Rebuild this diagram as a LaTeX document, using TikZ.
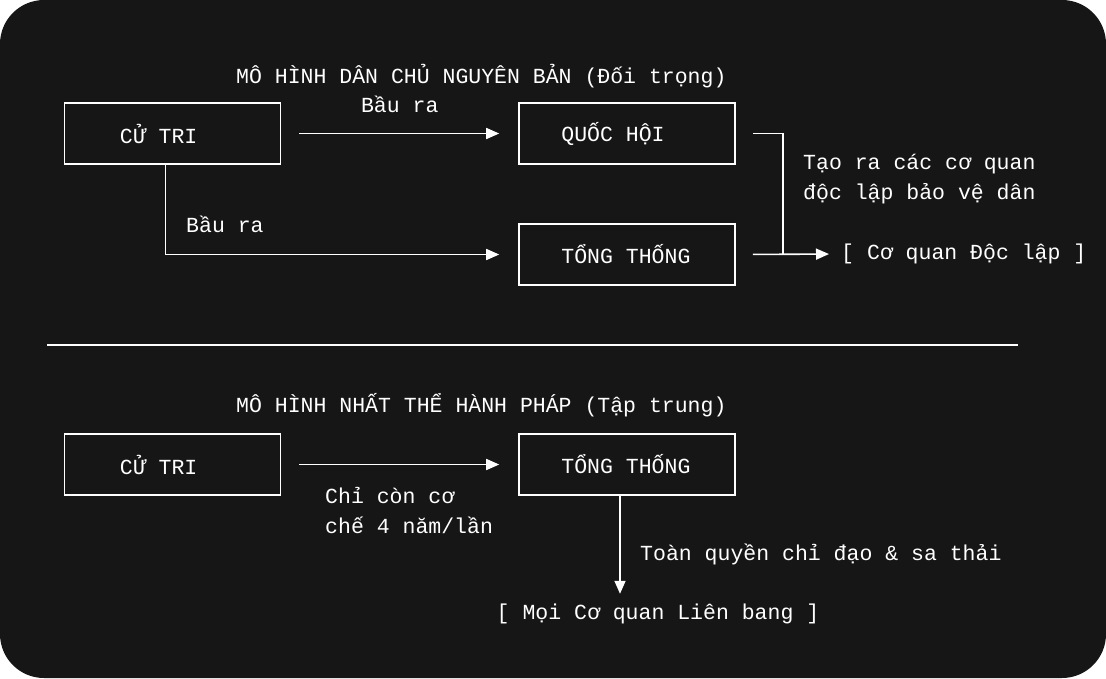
\documentclass[tikz,border=0pt]{standalone}
\usepackage{fontspec}
\usetikzlibrary{arrows.meta}
\newfontfamily\monofont{Liberation Mono}
\definecolor{nen}{HTML}{161616}
\tikzset{
  chu/.style={inner sep=0pt, text=white, align=left},
  khung/.style={draw=white, line width=1.6pt, minimum width=216pt, minimum height=61pt},
  nhan/.style={chu, anchor=west, xshift=#1},
  nhan/.default=43pt,
  duong/.style={draw=white, line width=1.6pt},
  mui/.style={duong, -{Triangle[length=13pt,width=11pt]}}
}
\begin{document}
\begin{tikzpicture}[x=1pt, y=-1pt, font=\monofont\fontsize{21.5}{30}\selectfont]
    \useasboundingbox (0,0) rectangle (1106,678);
    % background
    \fill[white] (0,0) rectangle (1106,678);
    \fill[nen, rounded corners=44pt] (0,0) rectangle (1106,678);
    % model 1
    \node[chu, anchor=west] (tieude1) at (236,76) {MÔ HÌNH DÂN CHỦ NGUYÊN BẢN (Đối trọng)};
    \node[khung, label={[nhan=56pt]west:CỬ TRI}] (cutri1) at (172.5,133.5) {};
    \node[khung, label={[nhan]west:QUỐC HỘI}] (quochoi) at (627,133.5) {};
    \node[khung, label={[nhan]west:TỔNG THỐNG}] (tongthong1) at (627,254.5) {};
    \node[chu, anchor=west] (cqdl) at (841,254) {[ Cơ quan Độc lập ]};
    \coordinate (nhanh) at (783,254);
    \draw[mui, shorten <=18pt, shorten >=19pt] (cutri1) -- (quochoi)
        node[chu, midway, above=20pt] (bauqh) {Bầu ra};
    \draw[mui, shorten >=19pt] ([xshift=-7pt]cutri1.south) |- (tongthong1.west);
    \node[chu, anchor=west] (bautt) at (186,224) {Bầu ra};
    % independent agencies
    \draw[duong, shorten <=17pt] (quochoi.east) -| (nhanh);
    \draw[mui, shorten <=17pt, shorten >=12pt] (tongthong1.east) -- (cqdl.west);
    \node[chu, anchor=west] (taora) at (803,179) {Tạo ra các cơ quan\\độc lập bảo vệ dân};
    % separator
    \draw[duong] (47,345) -- (1018,345);
    % model 2
    \node[chu, anchor=west] (tieude2) at (236,405) {MÔ HÌNH NHẤT THỂ HÀNH PHÁP (Tập trung)};
    \node[khung, label={[nhan=56pt]west:CỬ TRI}] (cutri2) at (172.5,464.5) {};
    \node[khung, label={[nhan]west:TỔNG THỐNG}] (tongthong2) at (627,464.5) {};
    \node[chu] (cqlb) at (658,614) {[ Mọi Cơ quan Liên bang ]};
    \draw[mui, shorten <=18pt, shorten >=19pt] (cutri2) -- (tongthong2);
    \node[chu, anchor=west] (chicon) at (325,510) {Chỉ còn cơ\\chế 4 năm/lần};
    \draw[mui, shorten >=10pt] ([xshift=-7pt]tongthong2.south) -- ([xshift=-7pt]tongthong2.south |- cqlb.north);
    \node[chu, anchor=west] (toanquyen) at (640,554) {Toàn quyền chỉ đạo \& sa thải};
\end{tikzpicture}
\end{document}
